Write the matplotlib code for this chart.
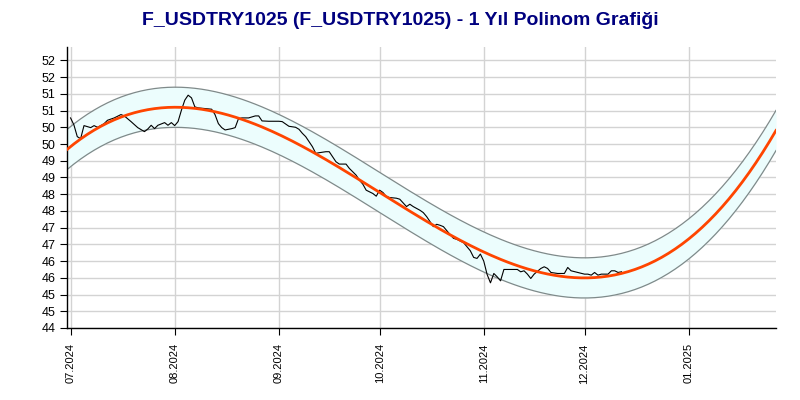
import numpy as np
import pandas as pd
import matplotlib
matplotlib.use("Agg")
import matplotlib.pyplot as plt
import matplotlib.dates as mdates
from matplotlib.ticker import FixedLocator, FuncFormatter

# daily closes, offsets in days from 2024-07-01
start_date = "2024-07-01"
day_offsets = [
    0, 1, 2, 3, 4, 5, 6, 7, 8, 9, 10, 11, 13, 15, 16, 18, 20, 22, 23, 24,
    25, 26, 28, 29, 30, 31, 32, 33, 34, 35, 36, 37, 38, 40, 42, 43, 44, 45,
    46, 48, 49, 50, 51, 53, 55, 56, 57, 59, 62, 63, 64, 65, 67, 68, 69, 70,
    71, 72, 73, 74, 76, 77, 78, 79, 80, 82, 83, 85, 86, 87, 88, 90, 91, 92,
    93, 94, 95, 97, 98, 100, 101, 102, 104, 105, 106, 107, 108, 109, 110,
    111, 112, 113, 114, 115, 117, 118, 119, 120, 121, 122, 123, 124, 125,
    126, 127, 128, 129, 131, 133, 134, 135, 136, 137, 138, 140, 141, 142,
    143, 145, 147, 148, 149, 151, 153, 154, 155, 156, 157, 158, 160, 161,
    162, 163, 164,
]
prices = [
    50.28, 50.07, 49.72, 49.66, 50.05, 50.02, 49.99, 50.05, 50.00, 50.05,
    50.11, 50.21, 50.28, 50.38, 50.34, 50.17, 49.99, 49.87, 49.95, 50.06,
    49.96, 50.06, 50.14, 50.06, 50.14, 50.05, 50.17, 50.51, 50.81, 50.96,
    50.88, 50.61, 50.58, 50.56, 50.54, 50.38, 50.11, 49.99, 49.92, 49.96,
    49.99, 50.26, 50.28, 50.28, 50.34, 50.34, 50.19, 50.18, 50.18, 50.17,
    50.10, 50.03, 50.00, 49.94, 49.82, 49.72, 49.57, 49.42, 49.22, 49.24,
    49.27, 49.27, 49.12, 48.97, 48.90, 48.90, 48.77, 48.57, 48.42, 48.30,
    48.12, 48.02, 47.94, 48.12, 48.05, 47.93, 47.90, 47.88, 47.85, 47.63,
    47.70, 47.63, 47.52, 47.45, 47.33, 47.18, 47.03, 47.10, 47.07, 47.03,
    46.91, 46.79, 46.68, 46.65, 46.55, 46.43, 46.31, 46.11, 46.08, 46.21,
    46.00, 45.60, 45.35, 45.63, 45.53, 45.41, 45.75, 45.75, 45.75, 45.68,
    45.71, 45.61, 45.48, 45.61, 45.78, 45.83, 45.78, 45.66, 45.63, 45.63,
    45.81, 45.71, 45.66, 45.61, 45.61, 45.58, 45.66, 45.58, 45.61, 45.61,
    45.71, 45.71, 45.66, 45.68,
]
poly_degree = 3
band_half_width = 0.6
x_start, x_end = "2024-06-30", "2025-01-27"
y_lo, y_hi = 44.0, 52.4
month_ticks = ["2024-07-01", "2024-08-01", "2024-09-01", "2024-10-01",
               "2024-11-01", "2024-12-01", "2025-01-01"]
title = "F_USDTRY1025 (F_USDTRY1025) - 1 Yıl Polinom Grafiği"

plt.rcParams.update({
    "font.family": ["Liberation Sans", "DejaVu Sans"],
    "axes.spines.top": False,
    "axes.spines.right": False,
})

dates = pd.Timestamp(start_date) + pd.to_timedelta(day_offsets, unit="D")
xd = mdates.date2num(dates)
y = np.array(prices)

coef = np.polyfit(xd, y, poly_degree)
x_fit = mdates.date2num(pd.date_range(x_start, x_end, freq="D"))
y_fit = np.polyval(coef, x_fit)

fig = plt.figure(figsize=(8, 4), dpi=100)
ax = fig.add_axes([0.084, 0.18, 0.886, 0.7025])

ax.fill_between(x_fit, y_fit - band_half_width, y_fit + band_half_width,
                color="#ecfdfd", zorder=1, linewidth=0)
ax.plot(x_fit, y_fit + band_half_width, color="#7f8a8a", lw=0.9, zorder=2)
ax.plot(x_fit, y_fit - band_half_width, color="#7f8a8a", lw=0.9, zorder=2)
ax.plot(xd, y, color="black", lw=0.8, zorder=3)
ax.plot(x_fit, y_fit, color="#ff4500", lw=2.0, zorder=4)

ax.set_xlim(mdates.datestr2num(x_start), mdates.datestr2num(x_end))
ax.set_ylim(y_lo, y_hi)

ax.xaxis.set_major_locator(FixedLocator(mdates.datestr2num(month_ticks)))
ax.xaxis.set_major_formatter(mdates.DateFormatter("%m.%Y"))
ax.yaxis.set_major_locator(FixedLocator(np.arange(44, 52.01, 0.5)))
ax.yaxis.set_major_formatter(FuncFormatter(lambda v, p: f"{int(np.floor(v + 0.5))}"))

ax.tick_params(axis="x", labelrotation=90, labelsize=8, length=5, pad=6, color="black")
ax.tick_params(axis="y", labelsize=9, length=5, color="black")
ax.grid(True, color="#d3d3d3", lw=1.0, zorder=0)
ax.set_axisbelow(True)
for s in ("left", "bottom"):
    ax.spines[s].set_color("black")
    ax.spines[s].set_linewidth(1.0)

fig.suptitle(title, x=0.5, y=0.97, fontsize=14, fontweight="bold", color="#00007f")

fig.savefig("out.png", dpi=100)
